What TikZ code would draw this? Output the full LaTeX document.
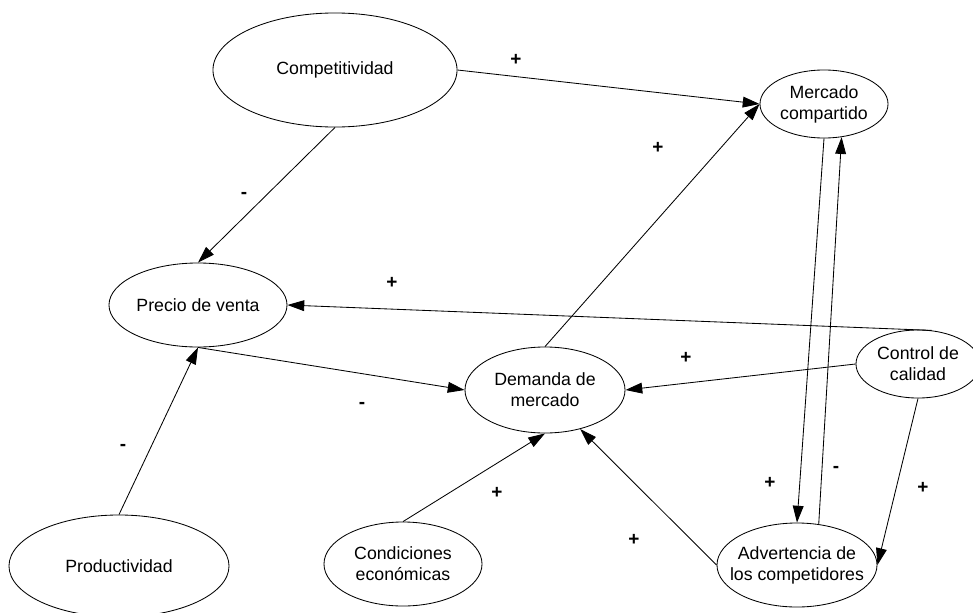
\documentclass[tikz,border=0pt]{standalone}
\usepackage{fontspec}
\setmainfont{Liberation Sans}
\usetikzlibrary{shapes.geometric, arrows.meta}

\begin{document}
\begin{tikzpicture}[x=0.025cm,y=-0.025cm,
        var/.style={draw, ellipse, line width=0.6pt, inner sep=0pt, inner xsep=-10pt, align=center, font=\fontsize{12.6}{15}\selectfont},
        link/.style={line width=0.6pt, -{Triangle[length=0.42cm,width=0.27cm]}},
        sign/.style={font=\fontsize{13.5}{15}\selectfont\bfseries}]
            \useasboundingbox (0,0) rectangle (973,612);
            % variables
            \node[var, minimum width=6.1cm, minimum height=2.85cm] (comp) at (335,70) {Competitividad};
            \node[var, minimum width=3.2cm, minimum height=1.7cm] (merc) at (824,104) {Mercado\\compartido};
            \node[var, minimum width=4.45cm, minimum height=2.1cm] (precio) at (198,305) {Precio de venta};
            \node[var, minimum width=4cm, minimum height=2.15cm] (dem) at (545,390) {Demanda de\\mercado};
            \node[var, minimum width=3.1cm, minimum height=1.7cm] (ctrl) at (918,364) {Control de\\calidad};
            \node[var, minimum width=5.5cm, minimum height=2.55cm] (prod) at (119,566) {Productividad};
            \node[var, minimum width=3.95cm, minimum height=2.1cm] (cond) at (403,564) {Condiciones\\econ\'omicas};
            \node[var, minimum width=4cm, minimum height=2.1cm] (adv) at (797,565) {Advertencia de\\los competidores};
            % links
            \draw[link] (comp.east)--(merc.west);
            \draw[link] (comp.south)--(precio.north);
            \draw[link] (dem.north)--(merc.west);
            \draw[link] (merc.south)--(adv.north);
            \draw[link] (adv.62)--(merc.-62);
            \draw[link] (ctrl.68)--(precio.east);
            \draw[link] (ctrl.west)--(dem.east);
            \draw[link] (precio.south)--(dem.west);
            \draw[link] (prod.north)--(precio.south);
            \draw[link] (cond.north)--(dem.south);
            \draw[link] (adv.west)--(dem.-48);
            \draw[link] (ctrl.south)--(adv.east);
            % signs
            \node[sign] (sCompMerc) at (516,60) {+};
            \node[sign] (sCompPrecio) at (244,195) {-};
            \node[sign] (sDemMerc) at (658,148) {+};
            \node[sign] (sMercAdv) at (770,483) {+};
            \node[sign] (sAdvMerc) at (836,469) {-};
            \node[sign] (sCtrlPrecio) at (392,283) {+};
            \node[sign] (sCtrlDem) at (686,358) {+};
            \node[sign] (sPrecioDem) at (362,405) {-};
            \node[sign] (sProdPrecio) at (123,447) {-};
            \node[sign] (sCondDem) at (497,493) {+};
            \node[sign] (sAdvDem) at (634,540) {+};
            \node[sign] (sCtrlAdv) at (923,488) {+};
\end{tikzpicture}
\end{document}
